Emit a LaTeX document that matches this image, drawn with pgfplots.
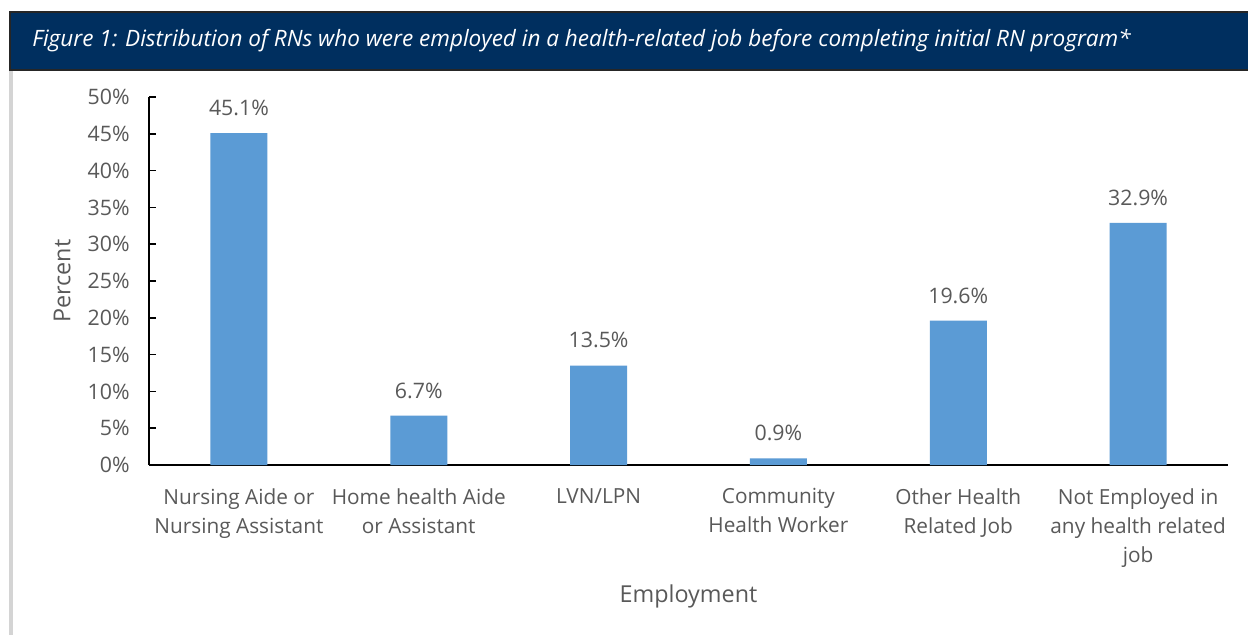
\documentclass[border=0pt]{standalone}
\usepackage{fontspec}
\setmainfont{Open Sans}
\usepackage{pgfplots}
\pgfplotsset{compat=1.18}
\definecolor{navy}{HTML}{002F5F}
\definecolor{barblue}{HTML}{5B9BD5}
\definecolor{txtgray}{HTML}{595959}
\definecolor{sidegray}{HTML}{D4D4D4}

\begin{document}
\begin{tikzpicture}[x=0.75pt,y=0.75pt]
\useasboundingbox (0,0) rectangle (1248,635);
\fill[white] (0,0) rectangle (1248,635);
% grey rule on the left and the title banner
\fill[sidegray] (9,0) rectangle (13,565);
\draw[fill=navy, draw=black!85, line width=0.9pt] (10,565) rectangle (1252,623);
\node[anchor=west, text=white, inner sep=0pt,
      font=\itshape\fontsize{16.9}{19}\selectfont] at (32,594)
  {Figure 1: Distribution of RNs who were employed in a health-related job before completing initial RN program*};

\begin{axis}[
  at={(111.75pt,127.5pt)}, anchor=south west,
  scale only axis, width=809.25pt, height=276pt,
  ybar, bar width=42.75pt,
  xmin=-0.5, xmax=5.5, ymin=0, ymax=50,
  axis x line*=bottom, axis y line*=left,
  axis line style={black, line width=1.2pt},
  xtick={0,...,5},
  xticklabels={{Nursing Aide or\\Nursing Assistant},{Home health Aide\\or Assistant},{LVN/LPN},{Community\\Health Worker},{Other Health\\Related Job},{Not Employed in\\any health related\\job}},
  x tick style={draw=none},
  ytick={0,5,...,50},
  yticklabel={\pgfmathprintnumber{\tick}\%},
  y tick style={black, line width=1.2pt},
  tick align=inside, major tick length=5.25pt,
  /pgf/number format/assume math mode=true,
  ticklabel style={text=txtgray, font=\fontsize{16}{19}\selectfont},
  yticklabel style={xshift=-11pt},
  xticklabel style={align=center, yshift=-14pt, font=\fontsize{15.6}{21.75}\selectfont},
  nodes near coords={\pgfmathprintnumber[fixed,precision=1,fixed zerofill]{\pgfplotspointmeta}\%},
  every node near coord/.append style={text=txtgray, font=\fontsize{16}{19}\selectfont, yshift=9.5pt},
  xlabel={Employment}, ylabel={Percent},
  label style={text=txtgray, font=\fontsize{17.5}{20}\selectfont},
  xlabel style={at={(axis description cs:0.5,-0.356)}, anchor=center},
  ylabel style={at={(axis description cs:-0.0806,0.5)}, anchor=center},
  clip=false,
]
\addplot[fill=barblue, draw=none] coordinates {
(0,45.1) (1,6.7) (2,13.5) (3,0.9) (4,19.6) (5,32.9)};
\end{axis}
\end{tikzpicture}
\end{document}
